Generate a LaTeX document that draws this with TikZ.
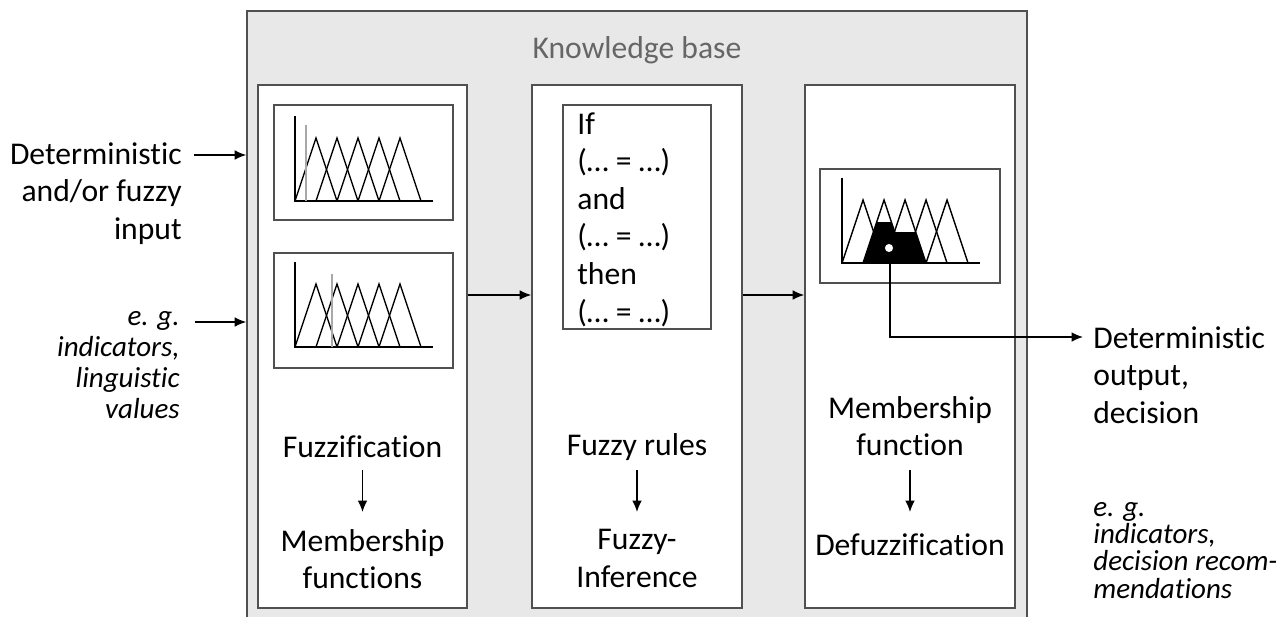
\documentclass[tikz,border=0pt]{standalone}
\usepackage{fontspec}
\setmainfont{Carlito}[Ligatures=NoCommon]
\usetikzlibrary{calc}
\usetikzlibrary{arrows.meta}
\usetikzlibrary{fit}

\definecolor{kbfill}{HTML}{E8E8E8}
\definecolor{frame}{HTML}{505050}
\definecolor{kbtext}{HTML}{666666}
\definecolor{cutgray}{HTML}{A8A8A8}

\tikzset{
  kbbox/.style={draw=frame, fill=kbfill, line width=1pt, inner sep=0pt},
  stagebox/.style={draw=frame, fill=white, line width=1pt, inner sep=0pt},
  plotbox/.style={draw=frame, fill=white, line width=0.9pt, inner sep=0pt},
  txt/.style={font=\fontsize{18}{21.4}\selectfont, inner sep=0pt},
  note/.style={font=\fontsize{16.5}{17.6}\selectfont\itshape, inner sep=0pt},
  flow/.style={->, line width=0.7pt},
  mf/.style={line width=0.8pt},
}

\begin{document}
\begin{tikzpicture}[x=0.02cm, y=-0.02cm, >={Latex[length=6.5pt,width=5.5pt]}]
\useasboundingbox (0,0) rectangle (1281,616);

% knowledge base and the three stages
\node[kbbox, fit={(247,11) (1027,640)}] (kb) {};
\node[txt, text=kbtext] (kbt) at (637,50) {Knowledge base};

\node[stagebox, fit={(258,85) (467,608)}] (fuzz) {};
\node[stagebox, fit={(532,85) (742,608)}] (rules) {};
\node[stagebox, fit={(805,85) (1015,608)}] (defuzz) {};

\node[plotbox, fit={(274,105) (453,220)}] (mfa) {};
\node[plotbox, fit={(274,253) (453,368)}] (mfb) {};
\node[plotbox, fit={(820,169) (1000,283)}] (mfc) {};
\node[plotbox, fit={(563,105) (711,329)}] (rulebox) {};

% membership functions
\foreach \ox/\oy in {295/201, 295/347, 842/263} {
  \draw[mf] (\ox,\oy-85) -- (\ox,\oy) -- (\ox+138,\oy);
  \foreach \k in {0,...,4}
    \draw[mf] (\ox+21*\k,\oy) -- (\ox+21*\k+21,\oy-63) -- (\ox+21*\k+42,\oy);
}
\draw[cutgray, line width=0.9pt] (306,125) -- (306,201);
\draw[cutgray, line width=0.9pt] (332,274) -- (332,347);

\fill (863,263) -- (877,222) -- (891,222) -- (894.5,232) -- (915.5,232) -- (926,263) -- cycle;
\fill[white] (889,248) circle[radius=2.3pt];
\coordinate (cog) at (890,263);

% texts
\node[txt, anchor=north west, align=left] (rl) at (577,112)
  {If\\(… = …)\\and\\(… = …)\\then\\(… = …)};

\node[txt] (fz) at (362.5,447) {Fuzzification};
\node[txt, anchor=north, align=center] (mfs) at (362.5,529) {Membership\\functions};
\node[txt] (fr) at (637,447) {Fuzzy rules};
\node[txt, anchor=north, align=center] (inf) at (637,529) {Fuzzy-\\Inference};
\node[txt, anchor=north, align=center] (mfn) at (910,396) {Membership\\function};
\node[txt] (dfz) at (910,545) {Defuzzification};

\draw[flow] (fz.south |- 0,470) -- (mfs.north |- 0,512);
\draw[flow] (fr.south |- 0,470) -- (inf.north |- 0,512);
\draw[flow] (mfn.south |- 0,470) -- (dfz.north |- 0,512);

\node[txt, anchor=north east, align=right, inner xsep=6.8pt] (inA) at (194,142)
  {Deterministic\\and/or fuzzy\\input};
\node[note, anchor=north east, align=right, inner xsep=8.5pt] (inB) at (195,311)
  {e. g.\\indicators,\\linguistic\\values};
\node[txt, anchor=north west, align=left, inner xsep=5.7pt] (out) at (1083,326)
  {Deterministic\\output,\\decision};
\node[note, anchor=north west, align=left, font=\fontsize{16.5}{15.5}\selectfont\itshape] (outB) at (1093,502)
  {e. g.\\indicators,\\decision recom-\\mendations};

% connectors
\draw[flow] (inA.north east |- 0,155) -- (kb.west |- 0,155);
\draw[flow] (inB.north east |- 0,322) -- (kb.west |- 0,322);
\draw[flow] (fuzz.east |- 0,295) -- (rules.west |- 0,295);
\draw[flow] (rules.east |- 0,295) -- (defuzz.west |- 0,295);
\draw[flow] (cog) |- (out.west |- 0,337);

\end{tikzpicture}
\end{document}
